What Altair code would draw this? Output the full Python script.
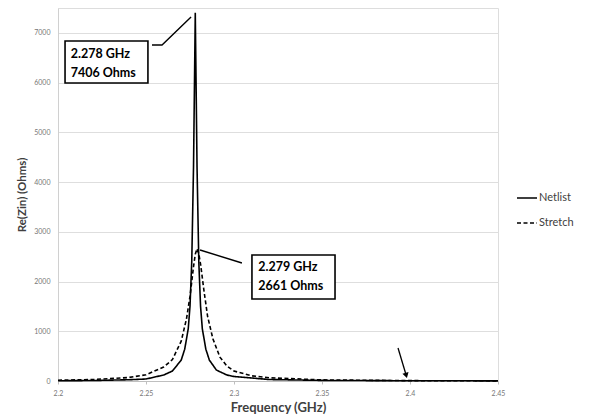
import altair as alt
import pandas as pd

# ---- data ----
netlist_freq = [2.20, 2.22, 2.24, 2.25, 2.26, 2.265, 2.27, 2.272, 2.274, 2.275, 2.276, 2.277,
                2.278, 2.279, 2.280, 2.281, 2.282, 2.284, 2.286, 2.29, 2.296, 2.30, 2.32, 2.35, 2.40, 2.45]
netlist_val = [5, 10, 25, 40, 120, 200, 420, 640, 1050, 1500, 2400, 4300,
               7406, 4300, 2400, 1500, 1050, 640, 420, 220, 120, 90, 30, 12, 5, 3]

stretch_freq = [2.20, 2.22, 2.24, 2.25, 2.26, 2.265, 2.27, 2.273, 2.275, 2.277, 2.278, 2.279,
                2.280, 2.281, 2.283, 2.285, 2.288, 2.292, 2.296, 2.30, 2.31, 2.32, 2.35, 2.40, 2.45]
stretch_val = [15, 30, 70, 125, 280, 430, 800, 1250, 1700, 2300, 2550, 2661,
               2560, 2350, 1800, 1300, 850, 480, 300, 200, 105, 65, 22, 7, 3]

series_names = ["Netlist", "Stretch"]
x_ticks = [2.2, 2.25, 2.3, 2.35, 2.4, 2.45]
y_ticks = [0, 1000, 2000, 3000, 4000, 5000, 6000, 7000]

# annotation boxes (data coordinates)
box_x1 = [2.204, 2.3102]
box_x2 = [2.2511, 2.3574]
box_y1 = [5992, 1649]
box_y2 = [6837, 2534]
label_x = [2.2072, 2.3138]
label_line1 = ["2.278 GHz", "2.279 GHz"]
label_line2 = ["7406 Ohms", "2661 Ohms"]
label_y1 = [6570, 2285]
label_y2 = [6195, 1905]

# leader lines
leader_id = [1, 1, 1, 2, 2]
leader_x = [2.2534, 2.2591, 2.2756, 2.2807, 2.3045]
leader_y = [6757, 6757, 7320, 2634, 2373]

# arrow
arrow_x = [2.3932, 2.3977]
arrow_y = [664, 130]

FONT = "Lato"

df = pd.concat([
    pd.DataFrame({"freq": netlist_freq, "val": netlist_val, "series": "Netlist"}),
    pd.DataFrame({"freq": stretch_freq, "val": stretch_val, "series": "Stretch"}),
])

xscale = alt.Scale(domain=[2.2, 2.45], nice=False, zero=False)
yscale = alt.Scale(domain=[0, 7500], nice=False)

lines = alt.Chart(df).mark_line(color="black", strokeWidth=1.6).encode(
    x=alt.X("freq:Q", scale=xscale,
            axis=alt.Axis(title="Frequency (GHz)", values=x_ticks, grid=False, format="~g",
                          labelFlush=False,
                          labelFontSize=7, labelColor="#777777", labelFont=FONT,
                          domainColor="#bfbfbf", tickColor="#bfbfbf", tickSize=3,
                          titleFont=FONT, titleFontSize=13, titleFontWeight="bold",
                          titleColor="#404040", titlePadding=5, labelPadding=5)),
    y=alt.Y("val:Q", scale=yscale,
            axis=alt.Axis(title="Re(Zin) (Ohms)", values=y_ticks, format="d",
                          grid=True, gridColor="#dedede", gridWidth=1,
                          labelFontSize=7, labelColor="#777777", labelFont=FONT,
                          domainColor="#d0d0d0", ticks=False, labelPadding=8,
                          titleFont=FONT, titleFontSize=11.5, titleFontWeight="bold",
                          titleColor="#404040", titlePadding=6)),
    strokeDash=alt.StrokeDash("series:N",
                              scale=alt.Scale(domain=series_names, range=[[1, 0], [4, 2.5]]),
                              legend=alt.Legend(title=None, orient="none", legendX=458, legendY=179,
                                                symbolType="stroke", symbolSize=400,
                                                symbolStrokeColor="black", symbolStrokeWidth=1.6,
                                                labelFont=FONT, labelFontSize=11, labelColor="#404040",
                                                labelOffset=1, rowPadding=9)),
)

ann = pd.DataFrame({"x1": box_x1, "x2": box_x2, "y1": box_y1, "y2": box_y2,
                    "lx": label_x, "t1": label_line1, "t2": label_line2,
                    "ly1": label_y1, "ly2": label_y2})

boxes = alt.Chart(ann).mark_rect(fill="white", stroke="black", strokeWidth=1.6).encode(
    x=alt.X("x1:Q", scale=xscale), x2="x2:Q",
    y=alt.Y("y1:Q", scale=yscale), y2="y2:Q")

txt1 = alt.Chart(ann).mark_text(align="left", baseline="middle", font=FONT, fontSize=12.5,
                                fontWeight="bold", color="black").encode(
    x=alt.X("lx:Q", scale=xscale), y=alt.Y("ly1:Q", scale=yscale), text="t1:N")
txt2 = alt.Chart(ann).mark_text(align="left", baseline="middle", font=FONT, fontSize=12.5,
                                fontWeight="bold", color="black").encode(
    x=alt.X("lx:Q", scale=xscale), y=alt.Y("ly2:Q", scale=yscale), text="t2:N")

lead = pd.DataFrame({"id": leader_id, "x": leader_x, "y": leader_y,
                     "o": list(range(len(leader_x)))})
leaders = alt.Chart(lead).mark_line(color="black", strokeWidth=1.4).encode(
    x=alt.X("x:Q", scale=xscale), y=alt.Y("y:Q", scale=yscale),
    detail="id:N", order="o:Q")

arr = pd.DataFrame({"x": arrow_x, "y": arrow_y})
arrow_line = alt.Chart(arr).mark_line(color="black", strokeWidth=1.3).encode(
    x=alt.X("x:Q", scale=xscale), y=alt.Y("y:Q", scale=yscale))
arrow_head = alt.Chart(arr.iloc[[1]]).mark_point(shape="triangle", filled=True, color="black",
                                                 size=40, angle=164, opacity=1).encode(
    x=alt.X("x:Q", scale=xscale), y=alt.Y("y:Q", scale=yscale))

chart = alt.layer(lines, leaders, boxes, txt1, txt2, arrow_line, arrow_head).properties(
    width=440, height=373,
    autosize=alt.AutoSizeParams(type="none"),
    padding={"left": 50, "top": 0, "right": 83, "bottom": 34},
).configure_view(stroke=None).configure(background="white")

chart.save("out.html", embed_options={"renderer": "svg", "actions": False})
